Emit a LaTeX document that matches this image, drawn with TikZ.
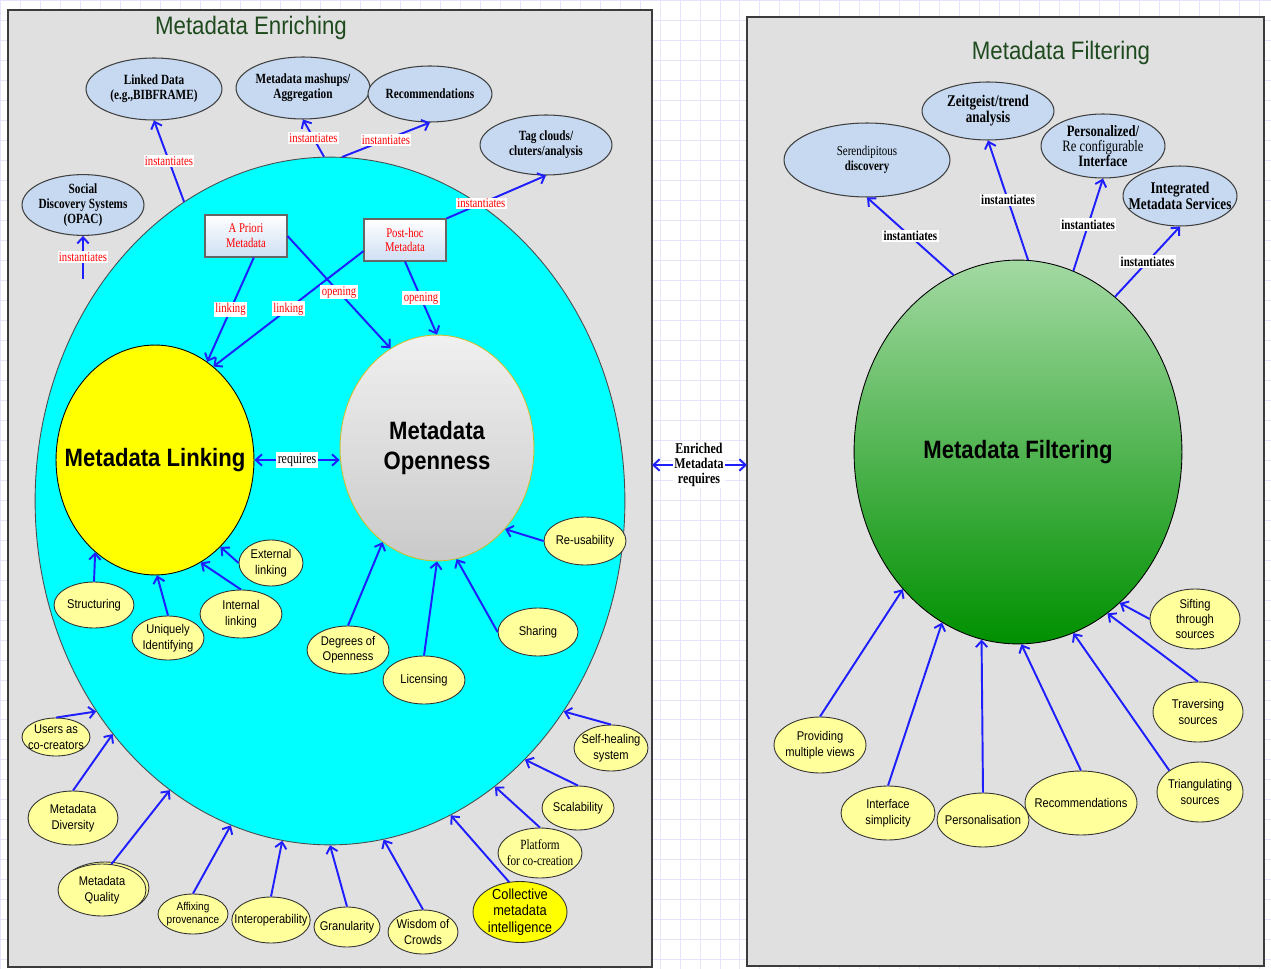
\documentclass[tikz,border=0pt]{standalone}
\usepackage{fontspec}
\setmainfont{Liberation Serif}
\setsansfont{Liberation Sans}
\newfontfamily\narrowsans[FakeStretch=0.88]{Liberation Sans}
\newfontfamily\narrowserif[FakeStretch=0.8]{Liberation Serif}
\usepackage{xcolor}
\usetikzlibrary{shapes.geometric, arrows.meta, shadows}
\definecolor{PanelGray}{HTML}{E0E0E0}
\definecolor{PanelEdge}{HTML}{3C3C3C}
\definecolor{GridLine}{HTML}{E4E4FA}
\definecolor{EnrichCyan}{HTML}{00FFFF}
\definecolor{LinkYellow}{HTML}{FFFF00}
\definecolor{LeafYellow}{HTML}{FFFF9C}
\definecolor{SkyBlue}{HTML}{C6D9F1}
\definecolor{ArrowBlue}{HTML}{1E1EFF}
\definecolor{LabelRed}{HTML}{FF0000}
\definecolor{TitleGreen}{HTML}{1E4A1E}
\definecolor{GreenTop}{HTML}{A3D9A3}
\definecolor{GreenBottom}{HTML}{009000}
\tikzset{
    rxy/.style 2 args={
        minimum width=#1*0.04cm,
        minimum height=#2*0.04cm
    },
    panel/.style={
        draw=PanelEdge,
        line width=1.3pt,
        fill=PanelGray,
        inner sep=0pt,
        outer sep=0pt
    },
    paneltitle/.style={
        font=\narrowsans\fontsize{14.4}{16}\selectfont,
        text=TitleGreen
    },
    hub/.style={
        ellipse,
        draw=black,
        line width=0.5pt,
        inner xsep=-14pt,
        inner ysep=0pt,
        font=\narrowsans\bfseries\fontsize{14.3}{17}\selectfont,
        align=center
    },
    leaf/.style={
        ellipse,
        draw=black!80,
        fill=#1,
        line width=0.5pt,
        inner xsep=-5pt,
        inner ysep=-1pt,
        font=\narrowsans\fontsize{7.2}{8.8}\selectfont,
        align=center
    },
    leaf/.default=LeafYellow,
    cloud/.style={
        ellipse,
        draw=black!75,
        fill=SkyBlue,
        line width=0.6pt,
        inner xsep=-9pt,
        inner ysep=0pt,
        font=\narrowserif\bfseries\fontsize{8}{8.6}\selectfont,
        align=center
    },
    metabox/.style={
        rectangle,
        draw=black!60,
        line width=0.6pt,
        top color=white,
        bottom color=SkyBlue!85,
        minimum width=1.64cm,
        minimum height=0.84cm,
        text=LabelRed,
        font=\narrowserif\fontsize{7.6}{8.4}\selectfont,
        align=center,
        inner sep=1pt
    },
    arrow/.style={
        ->,
        >={Straight Barb[length=3.5pt, width=6.5pt]},
        line width=1.1pt,
        ArrowBlue
    },
    twoway/.style={
        arrow,
        <->
    },
    redtag/.style={
        fill=white,
        inner sep=0.8pt,
        text=LabelRed,
        font=\narrowserif\fontsize{7.6}{8}\selectfont
    },
    blacktag/.style={
        fill=white,
        inner sep=0.8pt,
        text=black,
        font=\narrowserif\bfseries\fontsize{7.8}{8.4}\selectfont
    }
}

\begin{document}
\begin{tikzpicture}[x=0.02cm, y=-0.02cm]
    \useasboundingbox (0,0) rectangle (1271,969);
    \fill[white] (0,0) rectangle (1271,969);
    \draw[GridLine, step=0.4cm] (0,0) grid (1271,969);

    % Panels
    \node[panel, minimum width=644*0.02cm, minimum height=957*0.02cm] (enrichpanel) at (330,488.5) {};
    \node[panel, minimum width=517*0.02cm, minimum height=949*0.02cm] (filterpanel) at (1005.5,491.5) {};
    \node[paneltitle] (enrichtitle) at (251,28) {Metadata Enriching};
    \node[paneltitle] (filtertitle) at (1061,53) {Metadata Filtering};

    % Enriching side
    \node[ellipse, draw=black!70, line width=0.5pt, fill=EnrichCyan, rxy={295}{344}] (enrich) at (330,501) {};
    \node[hub, fill=LinkYellow, rxy={99}{115}] (linking) at (155,460) {Metadata Linking};
    \node[hub, draw=yellow!75!black, top color=gray!12, bottom color=gray!42, rxy={97}{113}] (openness) at (437,448) {Metadata\\Openness};

    \node[cloud, rxy={68}{31}] (linkeddata) at (154,89) {Linked Data\\(e.g.,BIBFRAME)};
    \node[cloud, rxy={67}{31}] (mashups) at (303,88) {Metadata mashups/\\Aggregation};
    \node[cloud, rxy={62}{28}] (recomm) at (430,94) {Recommendations};
    \node[cloud, rxy={66}{30}] (tagclouds) at (546,145) {Tag clouds/\\cluters/analysis};
    \node[cloud, rxy={61}{29}] (social) at (83,205) {Social\\Discovery Systems\\(OPAC)};

    \node[metabox] (apriori) at (246,236) {A Priori\\Metadata};
    \node[metabox] (posthoc) at (405,240) {Post-hoc\\Metadata};

    \node[leaf, rxy={40}{23}] (structuring) at (94,605) {Structuring};
    \node[leaf, rxy={36}{22}] (uniquely) at (168,638) {Uniquely\\Identifying};
    \node[leaf, rxy={41}{24}] (internal) at (241,614) {Internal\\linking};
    \node[leaf, rxy={32}{23}] (external) at (271,563) {External\\linking};
    \node[leaf, rxy={41}{24}] (reusability) at (585,541) {Re-usability};
    \node[leaf, rxy={40}{24}] (sharing) at (538,632) {Sharing};
    \node[leaf, rxy={41}{24}] (licensing) at (424,680) {Licensing};
    \node[leaf, rxy={41}{24}] (degrees) at (348,650) {Degrees of\\Openness};

    \node[leaf, rxy={34}{19}] (users) at (56,737) {Users as\\co-creators};
    \node[leaf, rxy={45}{27}] (diversity) at (73,818) {Metadata\\Diversity};
    \node[leaf, rxy={44}{26}, copy shadow={shadow xshift=0.06cm, shadow yshift=0.04cm}] (quality) at (102,890) {Metadata\\Quality};
    \node[leaf, rxy={35}{20}, font=\narrowsans\fontsize{6.5}{7.6}\selectfont] (affixing) at (193,914) {Affixing\\provenance};
    \node[leaf, rxy={39}{23}] (interop) at (271,920) {Interoperability};
    \node[leaf, rxy={33}{20}] (granularity) at (347,927) {Granularity};
    \node[leaf, rxy={35}{22}] (wisdom) at (423,932) {Wisdom of\\Crowds};
    \node[leaf=LinkYellow, rxy={47}{27}, font=\narrowsans\fontsize{8.3}{9.4}\selectfont] (collective) at (520,912) {Collective\\metadata\\intelligence};
    \node[leaf, rxy={42}{25}, font=\narrowserif\fontsize{8}{9}\selectfont] (platform) at (540,853) {Platform\\for co-creation};
    \node[leaf, rxy={36}{22}] (scalability) at (578,808) {Scalability};
    \node[leaf, rxy={37}{23}] (selfhealing) at (611,748) {Self-healing\\system};

    \draw[arrow] (enrich.116) -- node[redtag] {instantiates} (linkeddata.south);
    \draw[arrow] ([yshift=0.24cm]social.south |- enrich.138) -- node[redtag] {instantiates} (social.south);
    \draw[arrow] (enrich.91) -- node[redtag] {instantiates} (mashups.south);
    \draw[arrow] (enrich.88) -- node[redtag] {instantiates} (recomm.south);
    \draw[arrow] (posthoc.north east) -- node[redtag, pos=0.35] {instantiates} (tagclouds.south);
    \draw[arrow] (apriori.290) -- node[redtag] {linking} (linking.62);
    \draw[arrow] (posthoc.195) -- node[redtag] {linking} (linking.58);
    \draw[arrow] (apriori.east) -- node[redtag] {opening} (openness.115);
    \draw[arrow] (posthoc.south) -- node[redtag] {opening} (openness.90);
    \draw[twoway] (linking.east) -- node[blacktag, font=\narrowserif\fontsize{8.5}{9}\selectfont] {requires} (linking.east -| openness.west);

    \draw[arrow] (structuring.north) -- (linking.237);
    \draw[arrow] (uniquely.north) -- (linking.271);
    \draw[arrow] (internal.north) -- (linking.294);
    \draw[arrow] (external.west) -- (linking.307);
    \draw[arrow] (reusability.west) -- (openness.310);
    \draw[arrow] (sharing.west) -- (openness.280);
    \draw[arrow] (licensing.north) -- (openness.270);
    \draw[arrow] (degrees.north) -- (openness.240);

    \draw[arrow] (users.north) -- (enrich.222);
    \draw[arrow] (diversity.north) -- (enrich.227);
    \draw[arrow] (quality.70) -- (enrich.241);
    \draw[arrow] (affixing.north) -- (enrich.253);
    \draw[arrow] (interop.north) -- (enrich.262);
    \draw[arrow] (granularity.north) -- (enrich.270);
    \draw[arrow] (wisdom.north) -- (enrich.279);
    \draw[arrow] (collective.110) -- (enrich.291);
    \draw[arrow] (platform.north) -- (enrich.300);
    \draw[arrow] (scalability.north) -- (enrich.307);
    \draw[arrow] (selfhealing.north) -- (enrich.318);

    % Between the panels
    \node[blacktag, align=center, font=\narrowserif\bfseries\fontsize{8.5}{8.4}\selectfont] (enriched) at (699,465) {Enriched\\Metadata\\requires};
    \draw[arrow] (enriched) -- (enriched -| enrichpanel.east);
    \draw[arrow] (enriched) -- (enriched -| filterpanel.west);

    % Filtering side
    \node[hub, top color=GreenTop, bottom color=GreenBottom, rxy={164}{192}] (filtering) at (1018,452) {Metadata Filtering};

    \node[cloud, rxy={83}{37}, font=\narrowserif\fontsize{7.8}{8.4}\selectfont] (serendip) at (867,160) {Serendipitous\\\textbf{discovery}};
    \node[cloud, rxy={66}{29}, font=\narrowserif\bfseries\fontsize{9.3}{9}\selectfont] (zeitgeist) at (988,111) {Zeitgeist/trend\\analysis};
    \node[cloud, rxy={62}{32}, font=\narrowserif\fontsize{9}{8.6}\selectfont] (personalized) at (1103,146) {\textbf{Personalized/}\\Re configurable\\\textbf{Interface}};
    \node[cloud, rxy={57}{30}, font=\narrowserif\bfseries\fontsize{9.3}{9.4}\selectfont] (integrated) at (1180,196) {Integrated\\Metadata Services};

    \draw[arrow] (filtering.110) -- node[blacktag] {instantiates} (serendip.south);
    \draw[arrow] (filtering.87) -- node[blacktag] {instantiates} (zeitgeist.south);
    \draw[arrow] (filtering.73) -- node[blacktag] {instantiates} (personalized.south);
    \draw[arrow] (filtering.58) -- node[blacktag] {instantiates} (integrated.south);

    \node[leaf, rxy={46}{28}] (views) at (820,745) {Providing\\multiple views};
    \node[leaf, rxy={47}{27}] (simplicity) at (888,813) {Interface\\simplicity};
    \node[leaf, rxy={46}{27}] (personalisation) at (983,820) {Personalisation};
    \node[leaf, rxy={56}{32}] (recommend) at (1081,803) {Recommendations};
    \node[leaf, rxy={43}{30}] (triangulating) at (1200,792) {Triangulating\\sources};
    \node[leaf, rxy={45}{30}] (traversing) at (1198,712) {Traversing\\sources};
    \node[leaf, rxy={45}{30}] (sifting) at (1195,619) {Sifting\\through\\sources};

    \draw[arrow] (views.north) -- (filtering.230);
    \draw[arrow] (simplicity.north) -- (filtering.246);
    \draw[arrow] (personalisation.north) -- (filtering.259);
    \draw[arrow] (recommend.north) -- (filtering.271);
    \draw[arrow] (triangulating.north west) -- (filtering.287);
    \draw[arrow] (traversing.north) -- (filtering.299);
    \draw[arrow] (sifting.west) -- (filtering.304);
\end{tikzpicture}
\end{document}
